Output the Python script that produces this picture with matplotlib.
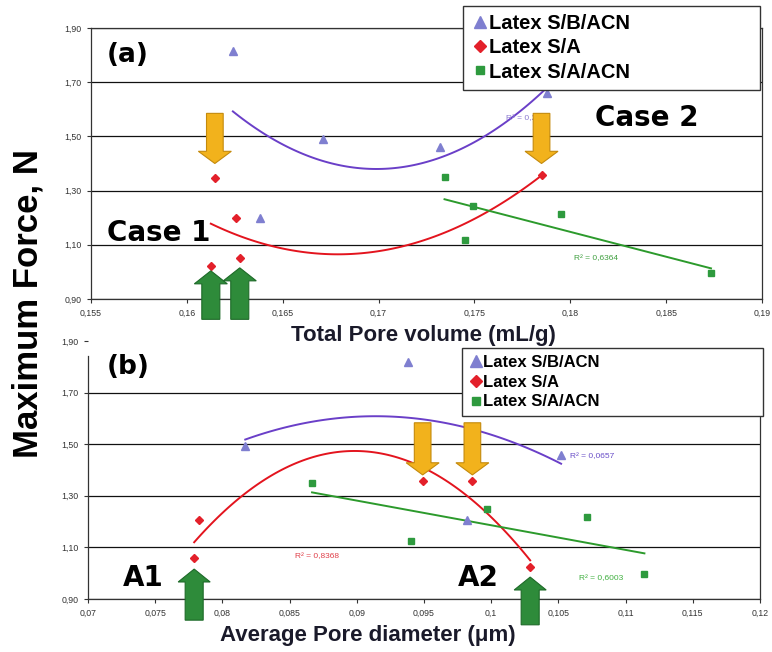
import numpy as np
import matplotlib
matplotlib.use('Agg')
import matplotlib.pyplot as plt
import matplotlib as mpl
from matplotlib.patches import FancyArrow
from matplotlib.ticker import FuncFormatter

mpl.rcParams['font.family'] = ['Liberation Sans', 'DejaVu Sans']

# Panel (a): maximum force vs total pore volume (mL/g)
vol_sba_x = [0.1624, 0.1638, 0.1671, 0.1732, 0.1788]
vol_sba_y = [1.815, 1.20, 1.489, 1.46, 1.66]
vol_sa_x = [0.16125, 0.16146, 0.16255, 0.16276, 0.1785]
vol_sa_y = [1.022, 1.345, 1.20, 1.052, 1.356]
vol_acn_x = [0.17344, 0.17453, 0.17495, 0.17953, 0.18734]
vol_acn_y = [1.35, 1.119, 1.245, 1.215, 0.997]
vol_r2 = {'sba': 'R² = 0,2313', 'acn': 'R² = 0,6364'}
vol_xticks = [0.155, 0.16, 0.165, 0.17, 0.175, 0.18, 0.185, 0.19]

# Panel (b): maximum force vs average pore diameter (um)
dia_sba_x = [0.0817, 0.0938, 0.0982, 0.1005, 0.1052]
dia_sba_y = [1.494, 1.817, 1.207, 1.66, 1.459]
dia_sa_x = [0.0779, 0.07826, 0.0949, 0.0986, 0.1029]
dia_sa_y = [1.059, 1.207, 1.358, 1.356, 1.024]
dia_acn_x = [0.08667, 0.0940, 0.0997, 0.1071, 0.1114]
dia_acn_y = [1.35, 1.125, 1.25, 1.218, 0.997]
dia_r2 = {'sba': 'R² = 0,0657', 'sa': 'R² = 0,8368', 'acn': 'R² = 0,6003'}
dia_xticks = [0.07, 0.075, 0.08, 0.085, 0.09, 0.095, 0.1, 0.105, 0.11, 0.115, 0.12]

yticks = [0.90, 1.10, 1.30, 1.50, 1.70, 1.90]
labels = ['Latex S/B/ACN', 'Latex S/A', 'Latex S/A/ACN']

C_TRI, C_TRI_LINE = '#7f7fd0', '#6a3fc8'
C_RED, C_RED_LINE = '#e3202a', '#e3141e'
C_GRN, C_GRN_LINE = '#2e9a3e', '#2c9a2c'
ORANGE, ORANGE_E = '#f2b21c', '#c48a0c'
GREEN_A, GREEN_A_E = '#2e8b3a', '#1d6a28'


def comma(v, pos=None):
    s = ('%.3f' % v).rstrip('0').rstrip('.')
    return s.replace('.', ',')


def trend(ax, x, y, deg, color):
    c = np.polyfit(x, y, deg)
    xs = np.linspace(min(x), max(x), 100)
    ax.plot(xs, np.polyval(c, xs), color=color, lw=1.4, zorder=3)


def style_axes(ax, xticks):
    ax.set_xlim(xticks[0], xticks[-1])
    ax.set_ylim(0.90, 1.90)
    ax.set_xticks(xticks)
    ax.set_yticks(yticks)
    ax.xaxis.set_major_formatter(FuncFormatter(comma))
    ax.yaxis.set_major_formatter(FuncFormatter(lambda v, p: ('%.2f' % v).replace('.', ',')))
    ax.tick_params(labelsize=6.3, colors='#333333', length=3, width=0.8, pad=4)
    ax.yaxis.grid(True, color='#111111', lw=0.9)
    ax.set_axisbelow(True)
    for s in ax.spines.values():
        s.set_color('#333333')
        s.set_linewidth(0.9)


def arrow(ax, x, y0, y1, w, hw, hl, fc, ec):
    a = FancyArrow(x, y0, 0, y1 - y0, width=w, head_width=hw, head_length=hl,
                   length_includes_head=True, fc=fc, ec=ec, lw=0.8, zorder=6, clip_on=False)
    ax.add_patch(a)


def legend(ax, box, size, spacing):
    x0, y_top, x1, y_bot = box
    anchor = (x0/772, 1 - y_bot/652, (x1 - x0)/772, (y_bot - y_top)/652)
    lg = ax.legend(loc='upper left', bbox_to_anchor=anchor, bbox_transform=ax.figure.transFigure,
                   mode='expand', prop={'weight': 'bold', 'size': size, 'family': 'Liberation Sans'},
                   handlelength=0.8, handletextpad=0.05, labelspacing=spacing, borderpad=0.42,
                   borderaxespad=0, fancybox=False, framealpha=1, edgecolor='#333333',
                   markerscale=1.4)
    lg.get_frame().set_linewidth(1.0)
    lg.set_zorder(8)


fig = plt.figure(figsize=(7.72, 6.52), dpi=100)
ax1 = fig.add_axes([91/772, 1 - 299/652, 671/772, 271/652])
ax2 = fig.add_axes([88/772, 1 - 599/652, 672/772, 258/652])

# ---- panel (a)
style_axes(ax1, vol_xticks)
ax1.plot(vol_sba_x, vol_sba_y, '^', color=C_TRI, ms=6, ls='none', label=labels[0], zorder=4)
ax1.plot(vol_sa_x, vol_sa_y, 'D', color=C_RED, ms=4.5, ls='none', label=labels[1], zorder=4)
ax1.plot(vol_acn_x, vol_acn_y, 's', color=C_GRN, ms=4.5, ls='none', label=labels[2], zorder=4)
trend(ax1, vol_sba_x, vol_sba_y, 2, C_TRI_LINE)
trend(ax1, vol_sa_x, vol_sa_y, 2, C_RED_LINE)
trend(ax1, vol_acn_x, vol_acn_y, 1, C_GRN_LINE)
ax1.text(0.17667, 1.567, vol_r2['sba'], fontsize=6, color='#8a7ad0', va='center', zorder=4)
ax1.text(0.1802, 1.049, vol_r2['acn'], fontsize=6, color='#40a040', va='center', zorder=4)

arrow(ax1, vol_sa_x[1], 1.585, 1.40, 0.00087, 0.00172, 0.045, ORANGE, ORANGE_E)
arrow(ax1, vol_sa_x[4], 1.585, 1.40, 0.00087, 0.00172, 0.045, ORANGE, ORANGE_E)
arrow(ax1, vol_sa_x[0], 0.825, 1.004, 0.00094, 0.00172, 0.048, GREEN_A, GREEN_A_E)
arrow(ax1, vol_sa_x[3], 0.825, 1.015, 0.00094, 0.00172, 0.048, GREEN_A, GREEN_A_E)

ax1.text(0.024, 0.90, '(a)', transform=ax1.transAxes, fontsize=19, fontweight='bold',
         family='DejaVu Sans', va='center', zorder=7)
ax1.text(0.024, 0.243, 'Case 1', transform=ax1.transAxes, fontsize=20, fontweight='bold',
         family='DejaVu Sans', va='center', zorder=7)
ax1.text(0.751, 0.668, 'Case 2', transform=ax1.transAxes, fontsize=20, fontweight='bold',
         family='DejaVu Sans', va='center', zorder=7)
legend(ax1, (463, 6, 760, 92), 14.5, 0.25)

# ---- panel (b)
style_axes(ax2, dia_xticks)
ax2.spines['top'].set_visible(False)
ax2.spines['left'].set_bounds(0.90, 1.84)
ax2.spines['right'].set_bounds(0.90, 1.84)
for gl, v in zip(ax2.get_ygridlines(), yticks):
    if v > 1.8:
        gl.set_visible(False)
ax2.plot(dia_sba_x, dia_sba_y, '^', color=C_TRI, ms=6, ls='none', label=labels[0], zorder=4)
ax2.plot(dia_sa_x, dia_sa_y, 'D', color=C_RED, ms=4.5, ls='none', label=labels[1], zorder=4)
ax2.plot(dia_acn_x, dia_acn_y, 's', color=C_GRN, ms=4.5, ls='none', label=labels[2], zorder=4)
trend(ax2, dia_sba_x, dia_sba_y, 2, C_TRI_LINE)
trend(ax2, dia_sa_x, dia_sa_y, 2, C_RED_LINE)
trend(ax2, dia_acn_x, dia_acn_y, 1, C_GRN_LINE)
ax2.text(0.1059, 1.451, dia_r2['sba'], fontsize=6, color='#6a4fc8', va='center', zorder=4)
ax2.text(0.0854, 1.063, dia_r2['sa'], fontsize=6, color='#e0404a', va='center', zorder=4)
ax2.text(0.1065, 0.978, dia_r2['acn'], fontsize=6, color='#40b040', va='center', zorder=4)

arrow(ax2, dia_sa_x[2], 1.583, 1.381, 0.00124, 0.00245, 0.047, ORANGE, ORANGE_E)
arrow(ax2, dia_sa_x[3], 1.583, 1.381, 0.00124, 0.00245, 0.047, ORANGE, ORANGE_E)
arrow(ax2, dia_sa_x[0], 0.818, 1.016, 0.00134, 0.00238, 0.05, GREEN_A, GREEN_A_E)
arrow(ax2, dia_sa_x[4], 0.80, 0.985, 0.00134, 0.00238, 0.05, GREEN_A, GREEN_A_E)

ax2.text(0.028, 0.899, '(b)', transform=ax2.transAxes, fontsize=19, fontweight='bold',
         family='DejaVu Sans', va='center', zorder=7)
ax2.text(0.052, 0.081, 'A1', transform=ax2.transAxes, fontsize=20, fontweight='bold',
         family='DejaVu Sans', va='center', zorder=7)
ax2.text(0.55, 0.081, 'A2', transform=ax2.transAxes, fontsize=20, fontweight='bold',
         family='DejaVu Sans', va='center', zorder=7)
legend(ax2, (462, 348, 763, 422), 12, 0.28)

# ---- shared labels
fig.text(28/772, 1 - 304/652, 'Maximum Force, N', rotation=90, fontsize=25, fontweight='bold',
         ha='center', va='center')
fig.text(423/772, 1 - 336/652, 'Total Pore volume (mL/g)', fontsize=16, fontweight='bold',
         color='#1a1a2a', ha='center', va='center')
fig.text(368/772, 1 - 636/652, 'Average Pore diameter (\u03bcm)', fontsize=16, fontweight='bold',
         color='#1a1a2a', ha='center', va='center')

fig.savefig('out.png', dpi=100)
